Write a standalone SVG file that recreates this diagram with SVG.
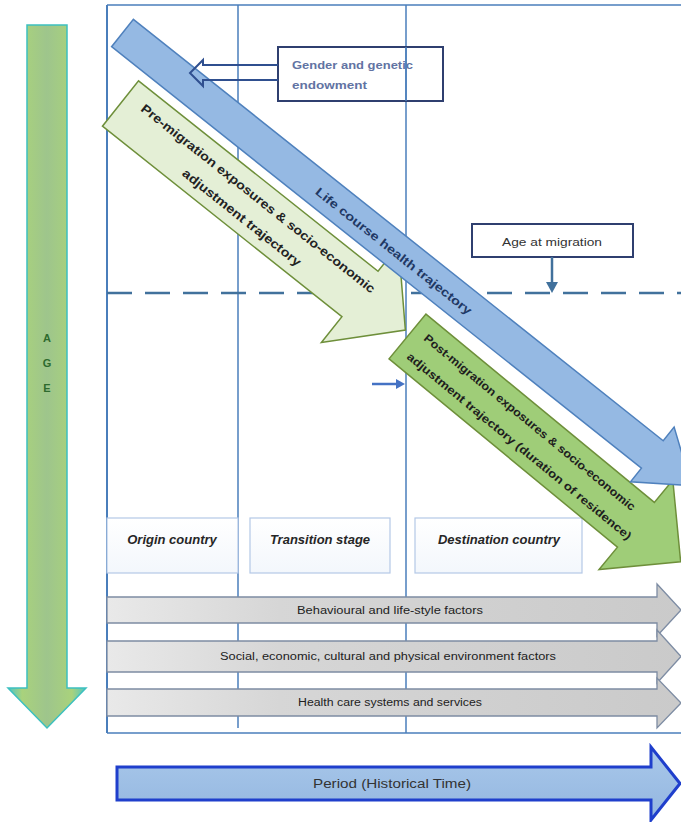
<svg xmlns="http://www.w3.org/2000/svg" width="681" height="822" viewBox="0 0 681 822">
<defs>
<linearGradient id="gAge" x1="0" y1="0" x2="1" y2="0">
<stop offset="0" stop-color="#4cc6c4"/><stop offset="0.18" stop-color="#a9d27c"/><stop offset="0.5" stop-color="#9ec58c"/><stop offset="0.82" stop-color="#a9d27c"/><stop offset="1" stop-color="#4cc6c4"/>
</linearGradient>
<linearGradient id="gGray" x1="0" y1="0" x2="1" y2="0">
<stop offset="0" stop-color="#e9e9e9"/><stop offset="0.3" stop-color="#d6d6d6"/><stop offset="1" stop-color="#cacaca"/>
</linearGradient>
<linearGradient id="gBox" x1="0" y1="0" x2="0" y2="1">
<stop offset="0" stop-color="#ffffff"/><stop offset="1" stop-color="#f3f7fc"/>
</linearGradient>
<linearGradient id="gPeriod" x1="0" y1="0" x2="0" y2="1">
<stop offset="0" stop-color="#a9c8ea"/><stop offset="1" stop-color="#93b6e0"/>
</linearGradient>
</defs>
<style>
.frame{stroke:#4a7ebb;stroke-width:1.5;fill:none}
.lbl{fill:url(#gBox);stroke:#b4c8e6;stroke-width:1.2}
.lbltxt{font-family:"Liberation Sans",Arial,sans-serif;font-size:13px;font-weight:bold;font-style:italic;fill:#262626;text-anchor:middle}
.bar{fill:url(#gGray);stroke:#7d8ca3;stroke-width:1.3}
.bartxt{font-family:"Liberation Sans",Arial,sans-serif;font-size:10px;fill:#222222;text-anchor:middle}
.diag{font-family:"Liberation Sans",Arial,sans-serif;font-weight:bold;text-anchor:middle}
.conn{stroke:#41719c;stroke-width:2.5;fill:none}
.gtxt{font-family:"Liberation Sans",Arial,sans-serif;font-size:11px;font-weight:bold;fill:#6273a3}
</style>

<g id="frame">
<line class="frame" x1="107" y1="5" x2="681" y2="5"/>
<line class="frame" x1="107" y1="5" x2="107" y2="733" style="stroke-width:2"/>
<line class="frame" x1="107" y1="733" x2="681" y2="733"/>
<line class="frame" x1="238" y1="5" x2="238" y2="728"/>
<line class="frame" x1="406" y1="5" x2="406" y2="733"/>
</g>

<g id="age-at-migration-line">
<line x1="107" y1="293" x2="681" y2="293" stroke="#41719c" stroke-width="2.5" stroke-dasharray="25 13"/>
</g>

<g id="age-axis">
<path d="M27,25 L67,25 L67,688 L86,688 L47,728 L8,688 L27,688 Z" fill="url(#gAge)" stroke="#3cc0c0" stroke-width="1.5"/>
<text x="47" y="342" font-family="Liberation Sans,Arial,sans-serif" font-size="11" font-weight="bold" fill="#2e6b2e" text-anchor="middle">A</text>
<text x="47" y="367" font-family="Liberation Sans,Arial,sans-serif" font-size="11" font-weight="bold" fill="#2e6b2e" text-anchor="middle">G</text>
<text x="47" y="392" font-family="Liberation Sans,Arial,sans-serif" font-size="11" font-weight="bold" fill="#2e6b2e" text-anchor="middle">E</text>
</g>

<g id="origin-country">
<rect class="lbl" x="107" y="518" width="131" height="55"/>
<text class="lbltxt" x="172" y="544">Origin country</text>
</g>
<g id="transition-stage">
<rect class="lbl" x="250" y="518" width="140" height="55"/>
<text class="lbltxt" x="320" y="544">Transition stage</text>
</g>
<g id="destination-country">
<rect class="lbl" x="415" y="518" width="167" height="55"/>
<text class="lbltxt" x="499" y="544">Destination country</text>
</g>

<g id="behavioural-factors">
<path class="bar" d="M107,597 L657,597 L657,584 L681,610 L657,636 L657,623 L107,623 Z"/>
<text class="bartxt" x="390" y="614" textLength="186" lengthAdjust="spacingAndGlyphs">Behavioural and life-style factors</text>
</g>
<g id="environment-factors">
<path class="bar" d="M107,641 L657,641 L657,630 L681,656.5 L657,683 L657,672 L107,672 Z"/>
<text class="bartxt" x="388" y="660" textLength="336" lengthAdjust="spacingAndGlyphs">Social, economic, cultural and physical environment factors</text>
</g>
<g id="health-care">
<path class="bar" d="M107,689 L657,689 L657,678 L681,703 L657,728 L657,716 L107,716 Z"/>
<text class="bartxt" x="390" y="706" textLength="184" lengthAdjust="spacingAndGlyphs">Health care systems and services</text>
</g>

<g id="period">
<path d="M117,767 L651,767 L651,747 L680,783.5 L651,820 L651,800 L117,800 Z" fill="url(#gPeriod)" stroke="#1f3fcc" stroke-width="3"/>
<text x="392" y="788" font-family="Liberation Sans,Arial,sans-serif" font-size="12.5" fill="#333333" text-anchor="middle" textLength="158" lengthAdjust="spacingAndGlyphs">Period (Historical Time)</text>
</g>

<g id="pre-migration" transform="translate(120.5,103.5) rotate(38.5)">
<path d="M0,-29 L306,-29 L306,-62 L364,0 L306,62 L306,29 L0,29 Z" fill="#e4efd6" stroke="#6e8f3a" stroke-width="1.5"/>
<text class="diag" x="167" y="-7" font-size="12.5" fill="#222222" textLength="295" lengthAdjust="spacingAndGlyphs">Pre-migration exposures &amp; socio-economic</text>
<text class="diag" x="166" y="18" font-size="12.5" fill="#222222" textLength="148" lengthAdjust="spacingAndGlyphs">adjustment trajectory</text>
</g>

<g id="post-migration" transform="translate(407.5,336.5) rotate(39.5)">
<path d="M0,-29 L296,-29 L296,-58 L354,0 L296,58 L296,29 L0,29 Z" fill="#9fcd78" stroke="#6e8f3a" stroke-width="1.5"/>
<text class="diag" x="149" y="-7.5" font-size="11.5" fill="#1e1e1e" textLength="270" lengthAdjust="spacingAndGlyphs">Post-migration exposures &amp; socio-economic</text>
<text class="diag" x="156" y="17.5" font-size="11.5" fill="#1e1e1e" textLength="287" lengthAdjust="spacingAndGlyphs">adjustment trajectory (duration of residence)</text>
</g>

<g id="life-course" transform="translate(122.5,33) rotate(38.5)">
<path d="M0,-17.5 L677,-17.5 L677,-35 L727,0 L677,35 L677,17.5 L0,17.5 Z" fill="#95b9e3" stroke="#4f81bd" stroke-width="1.5"/>
<text class="diag" x="348" y="6" font-size="12" fill="#1f3864" textLength="196" lengthAdjust="spacingAndGlyphs">Life course health trajectory</text>
</g>

<g id="gender-genetic">
<rect x="278" y="47" width="165" height="54" fill="none" stroke="#2f3f6f" stroke-width="2"/>
<text class="gtxt" x="292" y="69" textLength="121" lengthAdjust="spacingAndGlyphs">Gender and genetic</text>
<text class="gtxt" x="292" y="89" textLength="75" lengthAdjust="spacingAndGlyphs">endowment</text>
</g>
<line x1="406" y1="47" x2="406" y2="101" class="frame"/>

<g id="age-at-migration">
<rect x="472" y="224" width="161" height="33" fill="#ffffff" stroke="#2f3f6f" stroke-width="2"/>
<text x="552" y="246" font-family="Liberation Sans,Arial,sans-serif" font-size="11.5" fill="#333333" text-anchor="middle" textLength="100" lengthAdjust="spacingAndGlyphs">Age at migration</text>
</g>

<g id="connectors">
<path d="M278,65 L203,65 L203,60 L190,73 L203,86 L203,80 L278,80" fill="none" stroke="#2f4f8f" stroke-width="2"/>
<line class="conn" x1="552" y1="257" x2="552" y2="284"/>
<polygon points="546,282 558,282 552,293" fill="#41719c"/>
<line x1="372" y1="384" x2="398" y2="384" stroke="#4472c4" stroke-width="2.5"/>
<polygon points="396,379 396,389 405,384" fill="#4472c4"/>
</g>
</svg>
